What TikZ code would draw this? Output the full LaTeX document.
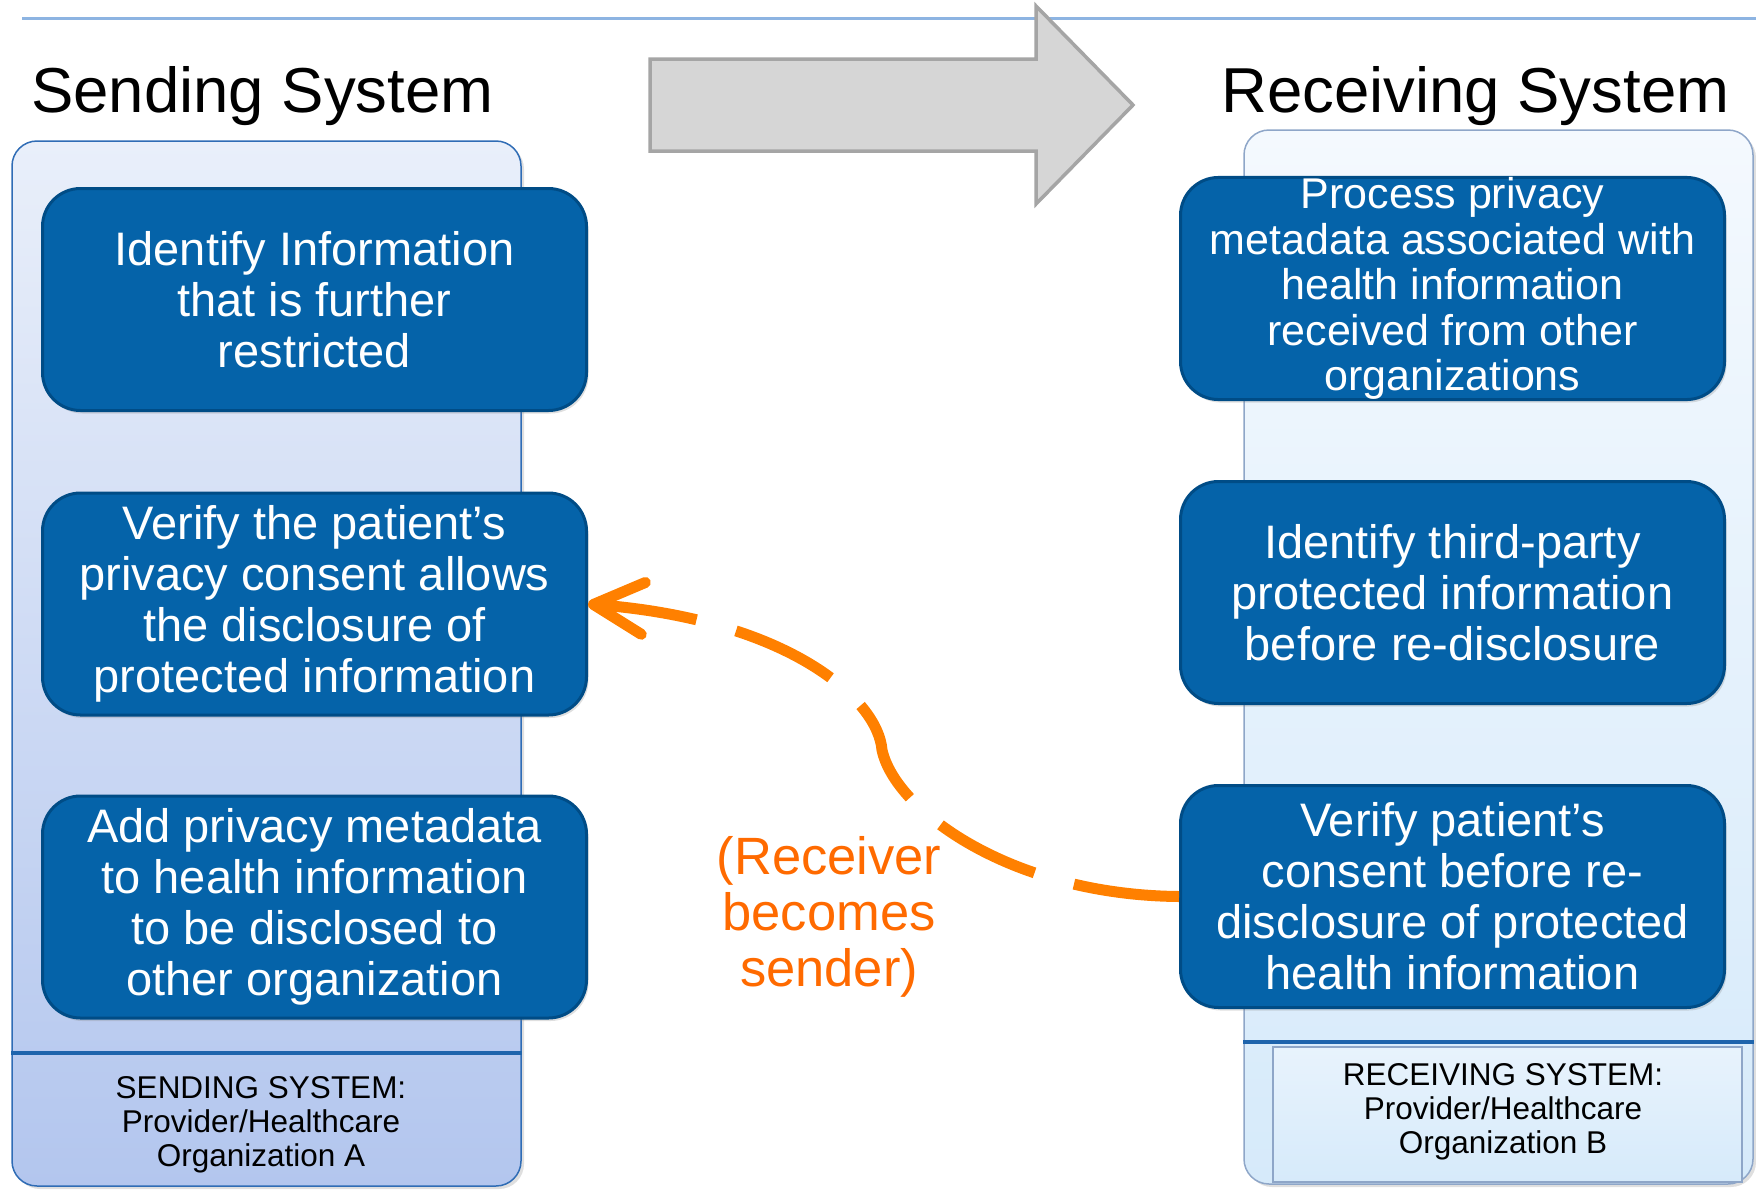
\documentclass[tikz,border=0pt]{standalone}
\usepackage{fontspec}
\setmainfont{Liberation Sans}
\usetikzlibrary{arrows.meta,shadows}

\definecolor{boxblue}{HTML}{0563A9}
\definecolor{boxedge}{HTML}{004C86}
\definecolor{rule}{HTML}{8DB4E2}
\definecolor{divider}{HTML}{1E64AC}
\definecolor{sendtop}{HTML}{E9EFFA}
\definecolor{sendbot}{HTML}{B3C6EE}
\definecolor{sendedge}{HTML}{2F6CB5}
\definecolor{recvtop}{HTML}{F4F9FE}
\definecolor{recvbot}{HTML}{D6EAFA}
\definecolor{recvedge}{HTML}{8EA6C8}
\definecolor{arrowgray}{HTML}{D6D6D6}
\definecolor{arrowedge}{HTML}{A5A5A5}
\definecolor{flowline}{HTML}{FF8000}
\definecolor{flowtext}{HTML}{FF6A00}

\tikzset{
  stepbox/.style={draw=boxedge, line width=3pt, fill=boxblue, rounded corners=38pt,
    minimum width=544pt, minimum height=222pt, inner sep=0pt,
    text=white, align=center, font=\fontsize{47}{51}\selectfont,
    drop shadow={opacity=0.25, shadow xshift=2pt, shadow yshift=-3pt}},
  panel/.style={rounded corners=25pt, minimum width=509pt, inner sep=0pt,
    drop shadow={opacity=0.25, shadow xshift=3pt, shadow yshift=-3pt}},
  title/.style={anchor=base west, inner sep=0pt, font=\fontsize{63.5}{70}\selectfont},
  footer/.style={align=center, inner sep=0pt, font=\fontsize{31.5}{34}\selectfont},
  flow/.style={draw=flowline, line width=11pt, dash pattern=on 106pt off 41pt,
    -{Straight Barb[length=50pt, width=52pt, line cap=round, line join=round]}},
}

\begin{document}
\begin{tikzpicture}[x=1pt,y=-1pt]
\useasboundingbox (0,0) rectangle (1756,1192);

% header rule
\draw[rule, line width=3pt] (22,18) -- (1756,18);

% column titles
\node[title] (stitle) at (31,112) {Sending System};
\node[title] (rtitle) at (1221,112) {Receiving System};

% big block arrow between the two systems
\filldraw[fill=arrowgray, draw=arrowedge, line width=3.5pt, line join=miter]
  (650,59) -- (1036,59) -- (1036,6) -- (1133,105) -- (1036,204) -- (1036,151) -- (650,151) -- cycle;

% system panels
\node[panel, shade, top color=sendtop, bottom color=sendbot, draw=sendedge, line width=1.5pt,
  minimum height=1045pt] (spanel) at (266.5,663.5) {};
\node[panel, shade, top color=recvtop, bottom color=recvbot, draw=recvedge, line width=1.5pt,
  minimum height=1054pt] (rpanel) at (1498.5,657) {};

% footer dividers
\draw[divider, line width=4.5pt] (spanel.west |- 0,1053) -- (spanel.east |- 0,1053);
\draw[divider, line width=4.5pt] (rpanel.west |- 0,1042) -- (rpanel.east |- 0,1042);

% receiving footer frame
\draw[recvedge, line width=1.5pt, top color=recvtop!60!recvbot, bottom color=recvbot]
  (1273,1047) rectangle (1742,1182);

\node[footer] (sfoot) at (261,1124.5) {SENDING SYSTEM:\\Provider/Healthcare\\Organization A};
\node[footer] (rfoot) at (1503,1111.5) {RECEIVING SYSTEM:\\Provider/Healthcare\\Organization B};

% sending steps
\node[stepbox] (s1) at (314.5,299.5) {Identify Information\\that is further\\restricted};
\node[stepbox] (s2) at (314.5,604) {Verify the patient’s\\privacy consent allows\\the disclosure of\\protected information};
\node[stepbox] (s3) at (314.5,907) {Add privacy metadata\\to health information\\to be disclosed to\\other organization};

% receiving steps
\node[stepbox, font=\fontsize{43}{45.5}\selectfont] (r1) at (1452.5,288.5)
  {Process privacy\\metadata associated with\\health information\\received from other\\organizations};
\node[stepbox] (r2) at (1452.5,592.5) {Identify third-party\\protected information\\before re-disclosure};
\node[stepbox] (r3) at (1452.5,896.5) {Verify patient’s\\consent before re-\\disclosure of protected\\health information};

% receiver turns into sender
\draw[flow] (r3.west) .. controls (1010,895) and (895,810) .. (882,750)
  .. controls (878,700) and (790,620) .. (s2.east);

\node[align=center, inner sep=0pt, text=flowtext, font=\fontsize{52.5}{56}\selectfont]
  (loop) at (829,917) {(Receiver\\becomes\\sender)};
\end{tikzpicture}
\end{document}
